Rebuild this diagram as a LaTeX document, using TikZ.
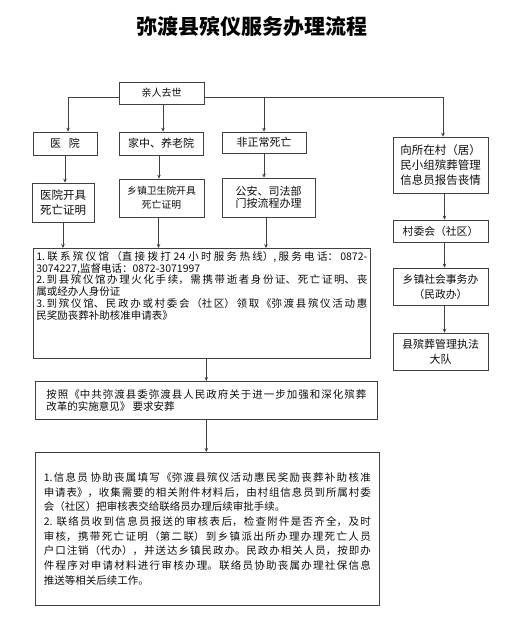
\documentclass[tikz,border=0pt]{standalone}
\usepackage{fontspec}
\setmainfont{Noto Sans CJK SC}
\usetikzlibrary{arrows.meta}
\XeTeXlinebreaklocale "zh"
\XeTeXlinebreakskip=0pt plus 5pt
\tolerance=2000
\newcommand{\boxfont}[2]{\fontsize{#1}{#2}\selectfont}
\tikzset{
  box/.style={draw=black!75, line width=0.6pt, inner sep=2pt, align=center, text=black!95},
  arr/.style={draw=black!75, line width=0.6pt, -{Stealth[length=4pt,width=3.5pt]}},
}
\begin{document}
\begin{tikzpicture}[x=1pt,y=-1pt]
\useasboundingbox (0,0) rectangle (524,618);
% Title
\node[font=\boxfont{21}{25}\bfseries] (title) at (252,27) {弥渡县殡仪服务办理流程};
% Top row
\node[box, minimum width=85pt, minimum height=22pt, font=\boxfont{10}{12}] (qin) at (161.5,93) {亲人去世};
\node[box, minimum width=64pt, minimum height=23pt, font=\boxfont{11}{13}] (yy) at (65,143.5) {医\hspace{8pt}院};
\node[box, minimum width=84pt, minimum height=23pt, font=\boxfont{11}{13}] (jz) at (161,143.5) {家中、养老院};
\node[box, minimum width=84pt, minimum height=21pt, font=\boxfont{11}{13}] (fz) at (264,142.5) {非正常死亡};
% Second row
\node[box, minimum width=62pt, minimum height=39pt, font=\boxfont{11.5}{15}] (yyzm) at (63,202.5) {医院开具\\死亡证明};
\node[box, minimum width=85pt, minimum height=38pt, font=\boxfont{9.8}{13.5}] (xzzm) at (161.5,198) {乡镇卫生院开具\\死亡证明};
\node[box, minimum width=93pt, minimum height=39pt, font=\boxfont{11}{12.5}] (gaf) at (268.5,197.5) {公安、司法部\\门按流程办理};
% Right column
\node[box, minimum width=95pt, minimum height=56pt, font=\boxfont{11.5}{15}] (bao) at (440.5,165) {向所在村（居）\\民小组殡葬管理\\信息员报告丧情};
\node[box, minimum width=95pt, minimum height=22pt, font=\boxfont{10.8}{13}] (cwh) at (440.5,231) {村委会（社区）};
\node[box, minimum width=95pt, minimum height=37pt, font=\boxfont{10.8}{15}] (xzsw) at (440.5,286.5) {乡镇社会事务办\\（民政办）};
\node[box, minimum width=95pt, minimum height=37pt, font=\boxfont{11}{15}] (xbz) at (440.5,351.5) {县殡葬管理执法\\大队};
% Big boxes
\node[box, anchor=north west, minimum width=337pt, inner sep=3pt] (info) at (33,248) {\parbox[c][104pt][t]{331pt}{\boxfont{10.5}{11.8}%
1.联系殡仪馆（直接拨打 24 小时服务热线）,服务电话：0872-\linebreak
3074227,监督电话：0872-3071997\par
2.到县殡仪馆办理火化手续，需携带逝者身份证、死亡证明、丧\linebreak
属或经办人身份证\par
3.到殡仪馆、民政办或村委会（社区）领取《弥渡县殡仪活动惠\linebreak
民奖励丧葬补助核准申请表》}};
\node[box, anchor=north west, minimum width=342pt, minimum height=38pt] (anz) at (35,381) {\parbox{320pt}{\boxfont{10.5}{12}%
按照《中共弥渡县委弥渡县人民政府关于进一步加强和深化殡葬\linebreak
改革的实施意见》 要求安葬}};
\node[box, anchor=north west, minimum width=344pt, minimum height=153pt] (shen) at (35,452) {\parbox{327pt}{\boxfont{10.5}{14.7}%
1.信息员 协助丧属填写《弥渡县殡仪活动惠民奖励丧葬补助核准\linebreak
申请表》，收集需要的相关附件材料后，由村组信息员到所属村委\linebreak
会（社区）把审核表交给联络员办理后续审批手续。\par
2. 联络员收到信息员报送的审核表后，检查附件是否齐全，及时\linebreak
审核，携带死亡证明（第二联）到乡镇派出所办理办理死亡人员\linebreak
户口注销（代办），并送达乡镇民政办。民政办相关人员，按即办\linebreak
件程序对申请材料进行审核办理。联络员协助丧属办理社保信息\linebreak
推送等相关后续工作。}};
% Connectors from the top box
\draw[arr] ([yshift=-4pt]qin.west) -| ([xshift=3pt]yy.north);
\draw[arr] ([xshift=1.5pt]qin.south) -- ([xshift=1.5pt]qin.south |- jz.north);
\draw[arr] ([yshift=-4pt]qin.east) -| ([xshift=2.5pt]bao.north);
\draw[arr] ([yshift=-4pt]qin.east -| fz.north) -- (fz.north);
% Down to the certificates
\draw[arr] (yy.south) -- (yy.south |- yyzm.north);
\draw[arr] ([xshift=-2pt]jz.south) -- ([xshift=-2pt]jz.south |- xzzm.north);
\draw[arr] (fz.south) -- (fz.south |- gaf.north);
% Down to the first big box
\draw[arr] (yyzm.south) -- (yyzm.south |- info.north);
\draw[arr] ([xshift=-3pt]xzzm.south) -- ([xshift=-3pt]xzzm.south |- info.north);
\draw[arr] ([xshift=-2.5pt]gaf.south) -- ([xshift=-2.5pt]gaf.south |- info.north);
\draw[arr] (anz.north |- info.south) -- (anz.north);
\draw[arr] (anz.south) -- (anz.south |- shen.north);
% Right column
\draw[arr] ([xshift=4pt]bao.south) -- ([xshift=4pt]cwh.north);
\draw[arr] ([xshift=4pt]cwh.south) -- ([xshift=4pt]xzsw.north);
\draw[arr] ([xshift=4pt]xzsw.south) -- ([xshift=4pt]xbz.north);
\end{tikzpicture}
\end{document}
